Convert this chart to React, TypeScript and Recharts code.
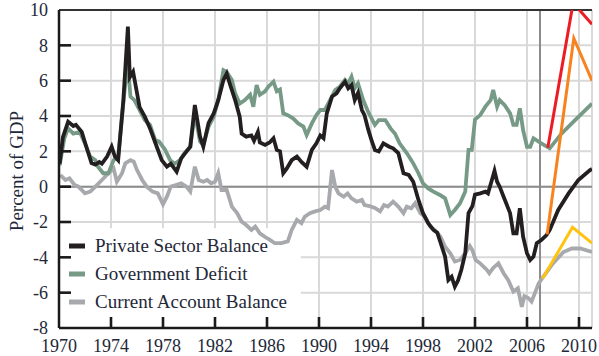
import { LineChart, Line, XAxis, YAxis, CartesianGrid, ReferenceLine, ReferenceArea, Legend } from 'recharts';

// [year, percent of GDP]
const privateSector: [number, number][] = [
  [1970.05, 1.3], [1970.3, 2.8], [1970.7, 3.68], [1971.1, 3.43], [1971.3, 3.5], [1971.75, 3.1],
  [1972.1, 2.26], [1972.5, 1.34], [1972.8, 1.25], [1973.1, 1.4], [1973.3, 1.3], [1973.7, 1.7],
  [1974.05, 2.26], [1974.3, 1.7], [1974.55, 1.5], [1974.95, 4.9], [1975.3, 9.06], [1975.45, 6.2],
  [1975.7, 6.5], [1975.8, 6.1], [1976.2, 4.5], [1976.6, 3.96], [1977.0, 3.3], [1977.4, 2.5],
  [1977.9, 1.5], [1978.3, 1.13], [1978.6, 1.3], [1979.05, 0.85], [1979.4, 1.6], [1979.8, 1.98],
  [1980.1, 2.26], [1980.45, 4.62], [1980.85, 2.83], [1981.1, 2.26], [1981.5, 3.6], [1981.9, 4.15],
  [1982.25, 4.9], [1982.65, 6.04], [1982.9, 6.4], [1983.15, 5.8], [1983.55, 4.9], [1983.9, 3.96],
  [1984.05, 3.0], [1984.4, 2.83], [1984.8, 2.9], [1985.0, 2.6], [1985.3, 3.1], [1985.45, 2.5],
  [1985.85, 2.36], [1986.2, 2.5], [1986.5, 2.74], [1986.75, 2.08], [1987.0, 2.0], [1987.25, 0.76],
  [1987.5, 1.0], [1987.9, 1.5], [1988.3, 1.7], [1988.65, 1.4], [1989.05, 1.13], [1989.45, 2.08],
  [1989.8, 2.45], [1990.1, 2.9], [1990.35, 2.74], [1990.6, 4.15], [1991.0, 5.1], [1991.35, 5.28],
  [1991.6, 5.57], [1992.0, 5.94], [1992.25, 5.57], [1992.5, 5.75], [1992.75, 4.9], [1993.0, 5.3],
  [1993.3, 4.34], [1993.5, 4.05], [1993.8, 3.2], [1994.05, 2.6], [1994.3, 2.08], [1994.6, 2.0],
  [1994.95, 2.45], [1995.4, 2.26], [1995.7, 2.17], [1996.1, 1.9], [1996.5, 0.76], [1996.9, 0.67],
  [1997.25, 0.28], [1997.65, -0.75], [1998.0, -1.5], [1998.4, -2.07], [1998.8, -2.45], [1999.1, -2.6],
  [1999.45, -3.4], [1999.7, -3.96], [1999.95, -5.28], [2000.2, -5.1], [2000.45, -5.66], [2000.7, -5.3],
  [2000.95, -4.7], [2001.25, -3.77], [2001.5, -1.5], [2001.8, -1.1], [2002.0, -0.45], [2002.4, -0.38],
  [2002.8, -0.28], [2003.0, -0.38], [2003.3, 0.38], [2003.5, 0.9], [2003.7, 0.28], [2003.9, 0.0],
  [2004.2, -0.57], [2004.4, -0.94], [2004.7, -1.5], [2004.95, -2.64], [2005.2, -2.64], [2005.45, -1.22],
  [2005.7, -2.83], [2006.0, -3.77], [2006.25, -4.15], [2006.5, -3.96], [2006.75, -3.2], [2007.1, -3.02],
  [2007.5, -2.74], [2007.75, -2.45], [2008.4, -1.32], [2009.2, -0.38], [2009.95, 0.38], [2010.85, 0.94],
  [2011.0, 1.0],
];

const govDeficit: [number, number][] = [
  [1970.05, 1.2], [1970.4, 2.7], [1970.7, 3.3], [1971.1, 3.0], [1971.6, 3.1], [1972.0, 2.45],
  [1972.4, 1.7], [1972.8, 1.5], [1973.0, 1.13], [1973.4, 0.76], [1973.8, 0.76], [1974.2, 1.5],
  [1974.55, 1.7], [1975.1, 5.85], [1975.3, 6.8], [1975.5, 5.1], [1975.8, 4.9], [1976.2, 4.34],
  [1976.6, 3.77], [1977.0, 3.5], [1977.4, 2.64], [1977.7, 2.55], [1978.15, 2.1], [1978.55, 1.5],
  [1978.9, 1.3], [1979.3, 1.5], [1979.65, 1.9], [1980.1, 2.26], [1980.45, 4.15], [1980.85, 2.55],
  [1981.1, 2.36], [1981.5, 3.4], [1981.9, 3.96], [1982.25, 4.9], [1982.65, 6.6], [1982.9, 6.5],
  [1983.3, 6.04], [1983.55, 5.28], [1983.9, 4.7], [1984.3, 4.9], [1984.7, 5.2], [1984.95, 4.53],
  [1985.2, 5.75], [1985.45, 5.2], [1985.85, 5.4], [1986.1, 5.66], [1986.5, 5.94], [1986.75, 5.4],
  [1987.0, 5.5], [1987.25, 4.15], [1987.6, 4.05], [1988.0, 3.87], [1988.4, 3.58], [1988.8, 3.4],
  [1989.05, 2.92], [1989.45, 3.58], [1989.8, 4.05], [1990.1, 4.34], [1990.45, 4.34], [1990.85, 4.9],
  [1991.25, 5.47], [1991.6, 5.66], [1992.0, 6.04], [1992.25, 5.85], [1992.5, 6.23], [1992.75, 5.57],
  [1993.0, 5.85], [1993.4, 4.9], [1993.8, 4.2], [1994.3, 3.5], [1994.6, 3.77], [1995.1, 3.77],
  [1995.5, 3.3], [1995.85, 3.0], [1996.2, 2.45], [1996.75, 1.9], [1997.25, 1.32], [1997.65, 0.76],
  [1998.0, 0.19], [1998.4, -0.1], [1998.8, -0.28], [1999.3, -0.47], [1999.7, -0.66], [2000.1, -1.6],
  [2000.45, -1.32], [2000.85, -0.94], [2001.25, -0.28], [2001.5, 2.08], [2001.75, 2.08], [2002.0, 3.8],
  [2002.4, 4.05], [2002.8, 4.53], [2003.2, 4.9], [2003.4, 5.47], [2003.7, 4.53], [2003.9, 4.9],
  [2004.3, 4.6], [2004.7, 4.15], [2004.95, 3.5], [2005.2, 3.5], [2005.45, 4.43], [2005.7, 3.2],
  [2006.0, 2.26], [2006.25, 2.26], [2006.5, 2.74], [2007.1, 2.45], [2007.75, 2.17], [2008.65, 3.0],
  [2009.7, 3.77], [2011.0, 4.7],
];

const currentAccount: [number, number][] = [
  [1970.1, 0.66], [1970.5, 0.38], [1970.8, 0.47], [1971.2, 0.1], [1971.5, 0.0], [1972.0, -0.38],
  [1972.4, -0.28], [1972.8, 0.0], [1973.3, 0.38], [1973.8, 0.76], [1974.2, 1.04], [1974.45, 0.28],
  [1974.85, 0.76], [1975.1, 1.32], [1975.5, 1.5], [1975.75, 1.42], [1976.0, 0.94], [1976.4, 0.38],
  [1976.75, 0.0], [1977.2, -0.28], [1977.6, -0.38], [1978.0, -1.0], [1978.3, -0.57], [1978.6, 0.0],
  [1979.05, 0.1], [1979.4, 0.19], [1979.8, 0.0], [1980.1, -0.28], [1980.45, 1.13], [1980.75, 0.38],
  [1981.1, 0.28], [1981.4, 0.38], [1981.7, 0.19], [1982.0, 0.28], [1982.25, 0.76], [1982.5, -0.19],
  [1982.9, -0.19], [1983.3, -1.13], [1983.7, -1.5], [1984.05, -1.98], [1984.4, -2.17], [1984.8, -2.45],
  [1985.1, -2.26], [1985.45, -2.64], [1985.85, -2.85], [1986.2, -3.0], [1986.6, -3.2], [1987.1, -3.2],
  [1987.6, -3.1], [1987.9, -2.45], [1988.3, -1.88], [1988.65, -2.07], [1988.9, -1.7], [1989.3, -1.5],
  [1989.7, -1.4], [1990.1, -1.32], [1990.45, -1.13], [1990.7, -1.22], [1991.0, 0.94], [1991.25, 0.0],
  [1991.5, -0.38], [1991.9, -0.57], [1992.2, -0.38], [1992.5, -0.66], [1992.9, -0.85], [1993.3, -0.75],
  [1993.5, -1.04], [1993.9, -1.1], [1994.3, -1.2], [1994.7, -1.4], [1995.0, -1.04], [1995.3, -1.13],
  [1995.7, -0.85], [1996.1, -1.13], [1996.5, -1.5], [1996.75, -1.13], [1997.1, -1.22], [1997.4, -0.94],
  [1997.8, -1.5], [1998.15, -1.7], [1998.55, -2.26], [1998.9, -2.45], [1999.35, -2.83], [1999.7, -3.4],
  [2000.1, -3.77], [2000.45, -4.24], [2000.85, -4.15], [2001.25, -3.77], [2001.6, -3.35], [2001.8, -3.6],
  [2002.05, -4.15], [2002.4, -4.34], [2002.9, -4.7], [2003.1, -4.9], [2003.4, -4.6], [2003.8, -4.34],
  [2004.2, -4.9], [2004.55, -5.28], [2004.95, -5.94], [2005.3, -5.75], [2005.6, -6.8], [2005.8, -6.2],
  [2006.1, -6.3], [2006.35, -6.5], [2006.6, -6.04], [2006.9, -5.47], [2007.25, -5.1], [2008.0, -4.34],
  [2008.8, -3.7], [2009.45, -3.5], [2010.1, -3.5], [2011.0, -3.7],
];

const redScenario: [number, number][] = [[2007.6, 2.2], [2009.55, 10.4], [2011.0, 9.2]];
const orangeScenario: [number, number][] = [[2007.55, -2.7], [2009.6, 8.4], [2011.0, 6.0]];
const yellowScenario: [number, number][] = [[2007.2, -5.2], [2009.5, -2.3], [2011.0, -3.2]];

const xTicks = [1970, 1974, 1978, 1982, 1986, 1990, 1994, 1998, 2002, 2006, 2010];
const yTicks = [-8, -6, -4, -2, 0, 2, 4, 6, 8, 10];

const legendNames = ['Private Sector Balance', 'Government Deficit', 'Current Account Balance'];
const legendColors = ['#231f20', '#779a87', '#a7a9ac'];

const toRows = (pts: [number, number][]) => pts.map(([year, value]) => ({ year, value }));

const FONT = '"Liberation Serif", "DejaVu Serif", serif';
const TEXT = '#232838';
const AXIS = '#1a1a1a';

// plot box, shared by the chart margins and the tick-mark overlay
const W = 599;
const H = 356;
const LEFT = 59;
const TOP = 10;
const RIGHT = 592;
const BOTTOM = 328;
const X_DOMAIN = [1970, 2011];
const Y_DOMAIN = [-8, 10];
const px = (t: number) => LEFT + ((t - X_DOMAIN[0]) / (X_DOMAIN[1] - X_DOMAIN[0])) * (RIGHT - LEFT);
const py = (v: number) => BOTTOM - ((v - Y_DOMAIN[0]) / (Y_DOMAIN[1] - Y_DOMAIN[0])) * (BOTTOM - TOP);

function YTick(props: any) {
  const { y, payload } = props;
  return (
    <text x={48} y={y} dy="0.36em" textAnchor="end" fontFamily={FONT} fontSize={18} fill={TEXT}>
      {payload.value}
    </text>
  );
}

function XTick(props: any) {
  const { x, payload } = props;
  return (
    <text x={x} y={346} dy="0.36em" textAnchor="middle" fontFamily={FONT} fontSize={18} fill={TEXT}>
      {payload.value}
    </text>
  );
}

function YLabel() {
  return (
    <text transform="translate(16,171) rotate(-90)" textAnchor="middle" dy="0.36em" fontFamily={FONT} fontSize={19} fill={TEXT}>
      Percent of GDP
    </text>
  );
}

// drawn as svg so the text uses the same font metrics as the axes
function LegendBox() {
  return (
    <svg width={240} height={86} style={{ display: 'block' }}>
      {legendNames.map((name, i) => (
        <g key={name} transform={`translate(0, ${14 + i * 28})`}>
          <rect x={0} y={-2.5} width={16} height={5} fill={legendColors[i]} />
          <text x={26} y={0} dy="0.34em" fontFamily={FONT} fontSize={19} fill={TEXT}>
            {name}
          </text>
        </g>
      ))}
    </svg>
  );
}

// inward tick marks on top of everything
function TickMarks() {
  return (
    <svg width={W} height={H} style={{ position: 'absolute', left: 0, top: 0, pointerEvents: 'none' }}>
      {xTicks.slice(1).map((t) => (
        <line key={`x${t}`} x1={px(t)} x2={px(t)} y1={BOTTOM} y2={BOTTOM - 11} stroke={AXIS} strokeWidth={2.6} />
      ))}
      {yTicks.slice(1, -1).map((t) => (
        <line key={`y${t}`} x1={LEFT} x2={LEFT + 12} y1={py(t)} y2={py(t)} stroke={AXIS} strokeWidth={2.6} />
      ))}
    </svg>
  );
}

export default function App() {
  return (
    <div style={{ position: 'absolute', left: 0, top: 0, width: W, height: H, background: '#fff' }}>
      <LineChart width={W} height={H} margin={{ top: TOP, right: W - RIGHT, bottom: 0, left: 0 }}>
        <CartesianGrid stroke="#d9d9d9" strokeWidth={2} />
        <ReferenceArea x1={1970} x2={1988.6} y1={-8} y2={-2.35} fill="#ffffff" fillOpacity={1} stroke="none" ifOverflow="visible" />
        <XAxis
          dataKey="year"
          type="number"
          domain={X_DOMAIN}
          ticks={xTicks}
          allowDataOverflow
          height={H - BOTTOM}
          axisLine={{ stroke: AXIS, strokeWidth: 2.5 }}
          tickLine={false}
          tick={<XTick />}
        />
        <YAxis
          type="number"
          domain={Y_DOMAIN}
          ticks={yTicks}
          allowDataOverflow
          width={LEFT}
          axisLine={{ stroke: AXIS, strokeWidth: 2.5 }}
          tickLine={false}
          tick={<YTick />}
          label={<YLabel />}
        />
        <ReferenceLine y={0} stroke="#8c8c8c" strokeWidth={2} />
        <ReferenceLine x={2007} stroke="#8c8c8c" strokeWidth={2} />
        <ReferenceLine y={10} stroke="#333333" strokeWidth={2} ifOverflow="visible" />
        <Legend
          layout="vertical"
          align="center"
          verticalAlign="middle"
          content={<LegendBox />}
          wrapperStyle={{ left: 69, top: 232, width: 240 }}
        />
        <Line data={toRows(currentAccount)} dataKey="value" name={legendNames[2]} stroke={legendColors[2]} strokeWidth={3.8} dot={false} isAnimationActive={false} />
        <Line data={toRows(govDeficit)} dataKey="value" name={legendNames[1]} stroke={legendColors[1]} strokeWidth={3.8} dot={false} isAnimationActive={false} />
        <Line data={toRows(privateSector)} dataKey="value" name={legendNames[0]} stroke={legendColors[0]} strokeWidth={3.8} dot={false} isAnimationActive={false} />
        <Line data={toRows(redScenario)} dataKey="value" stroke="#ed1c24" strokeWidth={3} dot={false} legendType="none" isAnimationActive={false} />
        <Line data={toRows(orangeScenario)} dataKey="value" stroke="#f7821e" strokeWidth={3} dot={false} legendType="none" isAnimationActive={false} />
        <Line data={toRows(yellowScenario)} dataKey="value" stroke="#ffc20e" strokeWidth={3} dot={false} legendType="none" isAnimationActive={false} />
      </LineChart>
      <TickMarks />
    </div>
  );
}
